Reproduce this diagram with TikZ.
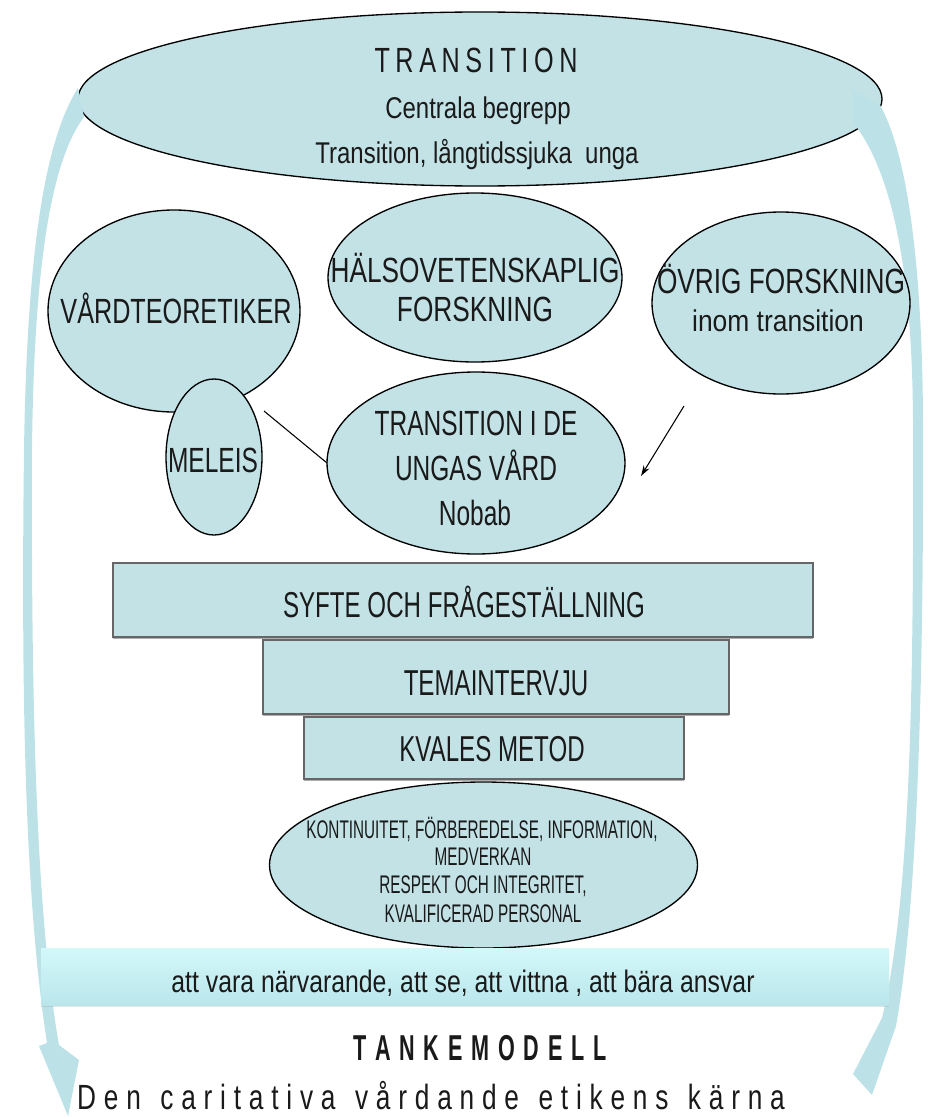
\documentclass[tikz,border=0pt]{standalone}
\usepackage{fontspec}
\setmainfont{Liberation Sans}
\newfontfamily\fntA{Liberation Sans}[FakeStretch=0.70]
\newfontfamily\fntB{Liberation Sans}[FakeStretch=0.80]
\newfontfamily\fntC{Liberation Sans}[FakeStretch=0.67]
\newfontfamily\fntD{Liberation Sans}[FakeStretch=0.60]
\newfontfamily\fntE{Liberation Sans}[FakeStretch=0.75]
\newfontfamily\fntF{Liberation Sans}[FakeStretch=0.88]
\newfontfamily\fntT{Liberation Sans}[FakeStretch=0.72]
\newfontfamily\fntK{Liberation Sans}[FakeStretch=0.60]
\usetikzlibrary{shapes.geometric,arrows.meta,shadows}
\definecolor{ell}{HTML}{C2E2E6}
\definecolor{arr}{HTML}{BCE2E8}
\definecolor{barT}{HTML}{D3F8FA}
\definecolor{barB}{HTML}{BAE6EB}
\definecolor{ink}{HTML}{1A1A1A}
\newcommand\gT{\hspace{4.2pt}}
\newcommand\gK{\hspace{6.6pt}}
\newcommand\ga{\hspace{5.85pt}}
\newcommand\gw{\hspace{14.6pt}}
\begin{document}
\begin{tikzpicture}[x=0.75pt,y=-0.75pt,
  oval/.style={ellipse, draw=black, line width=1pt, fill=ell, inner sep=0pt, outer sep=0pt},
  box/.style={rectangle, draw=black!60, line width=1.2pt, fill=ell, inner sep=0pt,
    drop shadow={shadow xshift=0pt, shadow yshift=-1.8pt, opacity=0.45, fill=black!70}},
  lbl/.style={inner sep=0pt, outer sep=0pt, anchor=base, text=ink},
  big/.style={lbl, font=\fntA\fontsize{26.25pt}{30pt}\selectfont},
  mid/.style={lbl, font=\fntB\fontsize{22.5pt}{26pt}\selectfont},
  rct/.style={lbl, font=\fntC\fontsize{27pt}{30pt}\selectfont},
  sml/.style={lbl, font=\fntD\fontsize{19.1pt}{22pt}\selectfont},
]
\fill[white] (0,0) rectangle (929,1117);
\useasboundingbox (0,0) rectangle (929,1117);

% top ellipse
\node[oval, minimum width=603pt, minimum height=130.5pt] (top) at (480,99) {};
\node[lbl, font=\fntT\fontsize{26.25pt}{30pt}\selectfont] (t1) at (476,72) {T\gT R\gT A\gT N\gT S\gT I\gT T\gT I\gT O\gT N};
\node[mid] (t2) at (478,118) {Centrala begrepp};
\node[mid] (t3) at (477,163) {Transition, långtidssjuka~ unga};

% curved side arrows
\fill[arr] (78,88) .. controls (45,140) and (27,250) .. (24,450)
  .. controls (21,700) and (25,900) .. (47,1043) -- (39,1046) -- (68,1116) -- (79,1060) -- (59,1045)
  .. controls (37,920) and (31,720) .. (32,450)
  .. controls (34,260) and (52,160) .. (84,117) -- cycle;
\fill[arr] (853,90) -- (853,122) .. controls (890,170) and (912,260) .. (913,420)
  .. controls (914,700) and (910,900) .. (882,1018) -- (853,1074) -- (872,1095) -- (896,1026)
  .. controls (915,920) and (924,720) .. (923,420)
  .. controls (922,250) and (905,150) .. (880,105) -- cycle;

% second row
\node[oval, minimum width=189pt, minimum height=151.5pt] (vt) at (174,311) {};
\node[big, font=\fntT\fontsize{26.25pt}{30pt}\selectfont] (vtl) at (176,323) {VÅRDTEORETIKER};
\node[oval, minimum width=220.5pt, minimum height=126.75pt] (hv) at (475,277.5) {};
\node[lbl, font=\fntE\fontsize{26.25pt}{30pt}\selectfont] (hv1) at (475,282) {HÄLSOVETENSKAPLIG};
\node[lbl, font=\fntE\fontsize{26.25pt}{30pt}\selectfont] (hv2) at (475,321) {FORSKNING};
\node[oval, minimum width=193.5pt, minimum height=136.5pt] (ov) at (781,303) {};
\node[lbl, font=\fntE\fontsize{26.25pt}{30pt}\selectfont] (ov1) at (781,293) {ÖVRIG FORSKNING};
\node[lbl, font=\fntF\fontsize{22.5pt}{26pt}\selectfont] (ov2) at (778,331) {inom transition};

% third row
\node[oval, minimum width=72pt, minimum height=117pt] (me) at (214,457) {};
\node[big] (mel) at (213,472) {MELEIS};
\node[oval, minimum width=223.5pt, minimum height=136.5pt] (tr) at (476,463) {};
\node[big] (tr1) at (476,435) {TRANSITION I DE};
\node[big] (tr2) at (476,480) {UNGAS VÅRD};
\node[big] (tr3) at (475,525) {Nobab};

\coordinate (l1) at (264,411);
\draw[black, line width=0.8pt] (l1) -- (tr.west);
\coordinate (a1) at (684,406);
\coordinate (a2) at (641,476);
\draw[black, line width=0.8pt, -{Stealth[length=8pt,width=5pt]}] (a1) -- (a2);

% stacked boxes
\node[box, minimum width=525pt, minimum height=55.5pt] (sy) at (463,600) {};
\node[rct] (syl) at (464,617) {SYFTE OCH FRÅGESTÄLLNING};
\node[box, minimum width=349.5pt, minimum height=55.5pt] (te) at (496,677) {};
\node[rct] (tel) at (496,695) {TEMAINTERVJU};
\node[box, minimum width=285pt, minimum height=46.5pt] (kv) at (494,748) {};
\node[rct] (kvl) at (492,761) {KVALES METOD};

% bottom ellipse
\node[oval, minimum width=321pt, minimum height=124.5pt] (kn) at (483.5,865) {};
\node[sml] (kn1) at (482,838) {KONTINUITET, FÖRBEREDELSE, INFORMATION,};
\node[sml] (kn2) at (483,865) {MEDVERKAN};
\node[sml] (kn3) at (483,893) {RESPEKT OCH INTEGRITET,};
\node[sml] (kn4) at (483,922) {KVALIFICERAD PERSONAL};

% bar
\node[rectangle, inner sep=0pt, top color=barT, bottom color=barB, minimum width=636pt, minimum height=42.75pt,
  drop shadow={shadow xshift=0pt, shadow yshift=-1.5pt, opacity=0.2, fill=black!50}] (bar) at (465,976.5) {};
\node[lbl, font=\fntB\fontsize{23.25pt}{26pt}\selectfont] (barl) at (463,992) {att vara närvarande, att se, att vittna , att bära ansvar};

% titles
\node[lbl, font=\fntK\bfseries\fontsize{27pt}{30pt}\selectfont] (tm) at (480,1060) {T\gK A\gK N\gK K\gK E\gK M\gK O\gK D\gK E\gK L\gK L};
\node[lbl, font=\fntE\fontsize{26.25pt}{30pt}\selectfont] (dc) at (431,1109) {D\ga e\ga n\gw c\ga a\ga r\ga i\ga t\ga a\ga t\ga i\ga v\ga a\gw v\ga å\ga r\ga d\ga a\ga n\ga d\ga e\gw e\ga t\ga i\ga k\ga e\ga n\ga s\gw k\ga ä\ga r\ga n\ga a};
\end{tikzpicture}
\end{document}
